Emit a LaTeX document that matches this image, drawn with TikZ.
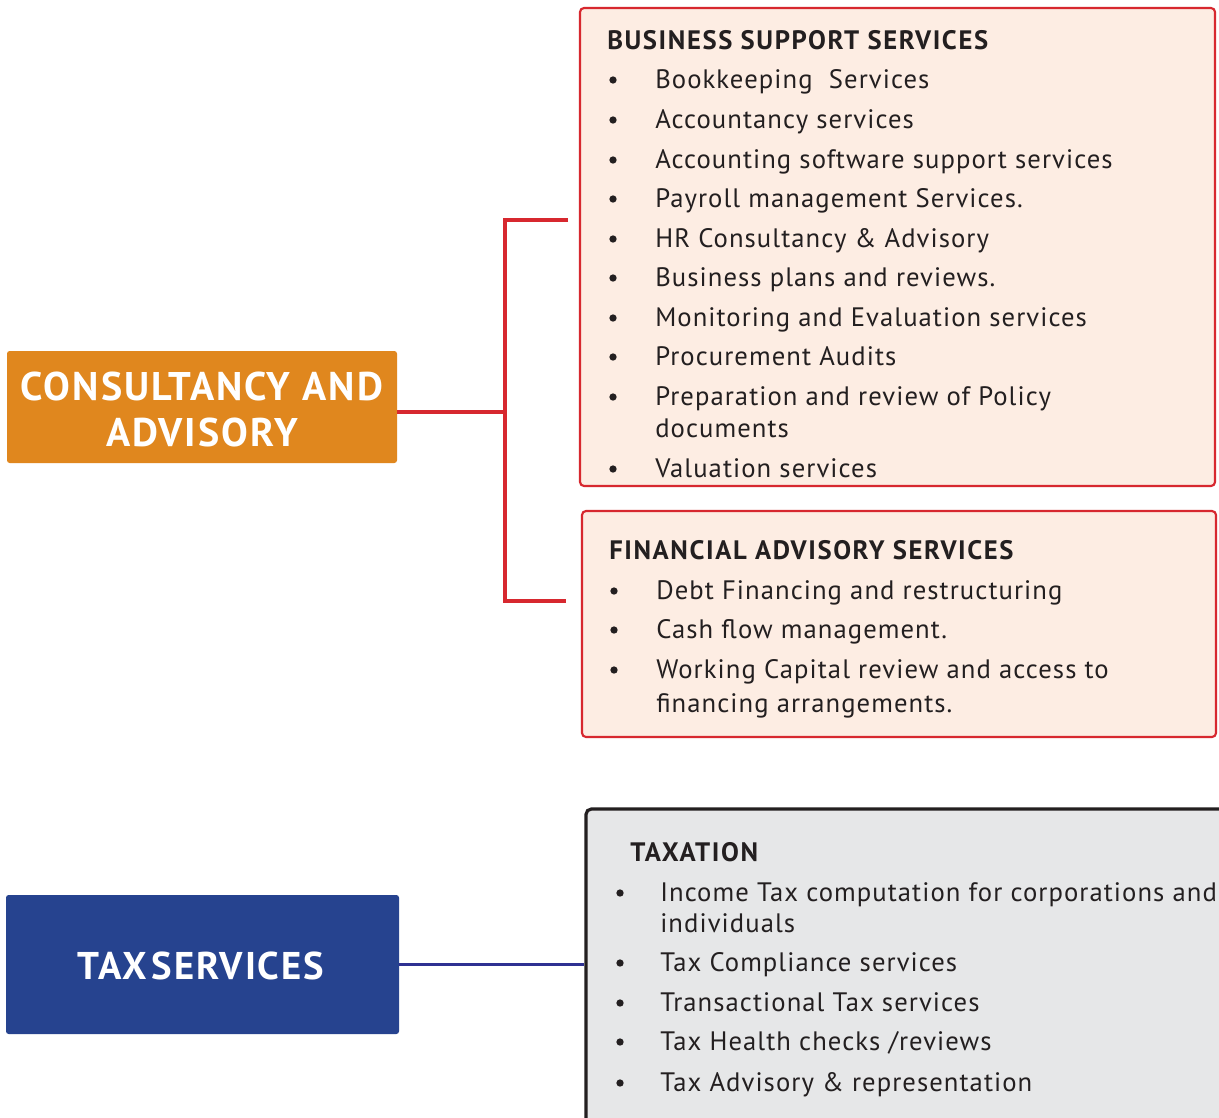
\documentclass[tikz,border=0pt]{standalone}
\usepackage{fontspec}
\setmainfont{PT Sans}
\usetikzlibrary{fit}
\definecolor{ink}{HTML}{231F20}
\definecolor{orangebox}{HTML}{E0871E}
\definecolor{redline}{HTML}{D7282F}
\definecolor{pinkfill}{HTML}{FDEDE3}
\definecolor{bluebox}{HTML}{26438F}
\definecolor{blueline}{HTML}{2E3192}
\definecolor{greyfill}{HTML}{E6E7E8}
\newfontfamily\bodyfont[LetterSpace=4]{PT Sans}
\newfontfamily\headfont[LetterSpace=6]{PT Sans Bold}
\newfontfamily\mainfont[LetterSpace=5]{PT Sans Bold}
\begin{document}
\begin{tikzpicture}[x=0.75pt,y=-0.75pt,
  txt/.style={anchor=base west,inner sep=0,text=ink,font=\bodyfont\fontsize{20}{24}\selectfont},
  hd/.style={anchor=base west,inner sep=0,text=ink,font=\headfont\fontsize{20}{24}\selectfont},
  dot/.style={circle,fill=ink,inner sep=0,minimum size=5.5pt},
  redbox/.style={draw=redline,fill=pinkfill,line width=1.6pt,rounded corners=3pt,inner sep=0},
  mainbox/.style={rounded corners=2pt,inner sep=0},
  mainlabel/.style={text=white,align=center,font=\mainfont\fontsize{30}{34.5}\selectfont}]
\clip (0,0) rectangle (1219,1117);
\fill[white] (0,0) rectangle (1219,1117);

% main boxes
\node[mainbox,fill=orangebox,fit={(7,351) (397,463)}] (cons) {};
\node[mainlabel] (consl) at (202,409) {CONSULTANCY AND\\ADVISORY};
\node[mainbox,fill=bluebox,fit={(6,895) (399,1034)}] (tax) {};
\node[mainlabel,font=\mainfont\fontsize{29}{33}\selectfont] (taxl) at (201,966) {TAX\hspace{0.12em}SERVICES};

% detail boxes
\node[redbox,fit={(580,8) (1215,486)}] (bss) {};
\node[redbox,fit={(582,511) (1216,737)}] (fas) {};
\node[draw=ink,fill=greyfill,line width=2.4pt,rounded corners=4pt,inner sep=0,fit={(586,809) (1260,1160)}] (taxn) {};

% connectors
\coordinate (j) at (505,412);
\coordinate (t1) at (568,220);
\coordinate (t2) at (566,601);
\draw[redline,line width=2.5pt] (cons.east |- j) -- (j);
\draw[redline,line width=2.5pt] (t1) -| (j) |- (t2);
\draw[blueline,line width=2.8pt] (tax.east) -- (tax.east -| taxn.west);

% business support services
\node[hd] (h1) at (607,49) {BUSINESS SUPPORT SERVICES};
\foreach \y/\t [count=\i] in {
  88/{Bookkeeping\ \ Services},
  128/{Accountancy services},
  168/{Accounting software support services},
  207/{Payroll management Services.},
  247/{HR Consultancy \& Advisory},
  286/{Business plans and reviews.},
  326/{Monitoring and Evaluation services},
  365/{Procurement Audits},
  405/{Preparation and review of Policy},
  477/{Valuation services}}{
  \node[txt] (b\i) at (655,\y) {\t};
  \node[dot] (bd\i) at (613,\y-8) {};
}
\node[txt] (b9b) at (655,437) {documents};

% financial advisory services
\node[hd] (h2) at (609,559) {FINANCIAL ADVISORY SERVICES};
\foreach \y/\t [count=\i] in {
  599/{Debt Financing and restructuring},
  638/{Cash flow management.},
  678/{Working Capital review and access to}}{
  \node[txt] (f\i) at (656,\y) {\t};
  \node[dot] (fd\i) at (614,\y-8) {};
}
\node[txt] (f3b) at (656,712) {financing arrangements.};

% taxation
\node[hd] (h3) at (630,861) {TAXATION};
\foreach \y/\t [count=\i] in {
  901/{Income Tax computation for corporations and},
  971/{Tax Compliance services},
  1011/{Transactional Tax services},
  1050/{Tax Health checks /reviews},
  1091/{Tax Advisory \& representation}}{
  \node[txt] (x\i) at (660,\y) {\t};
  \node[dot] (xd\i) at (620,\y-8) {};
}
\node[txt] (x1b) at (660,932) {individuals};
\end{tikzpicture}
\end{document}
